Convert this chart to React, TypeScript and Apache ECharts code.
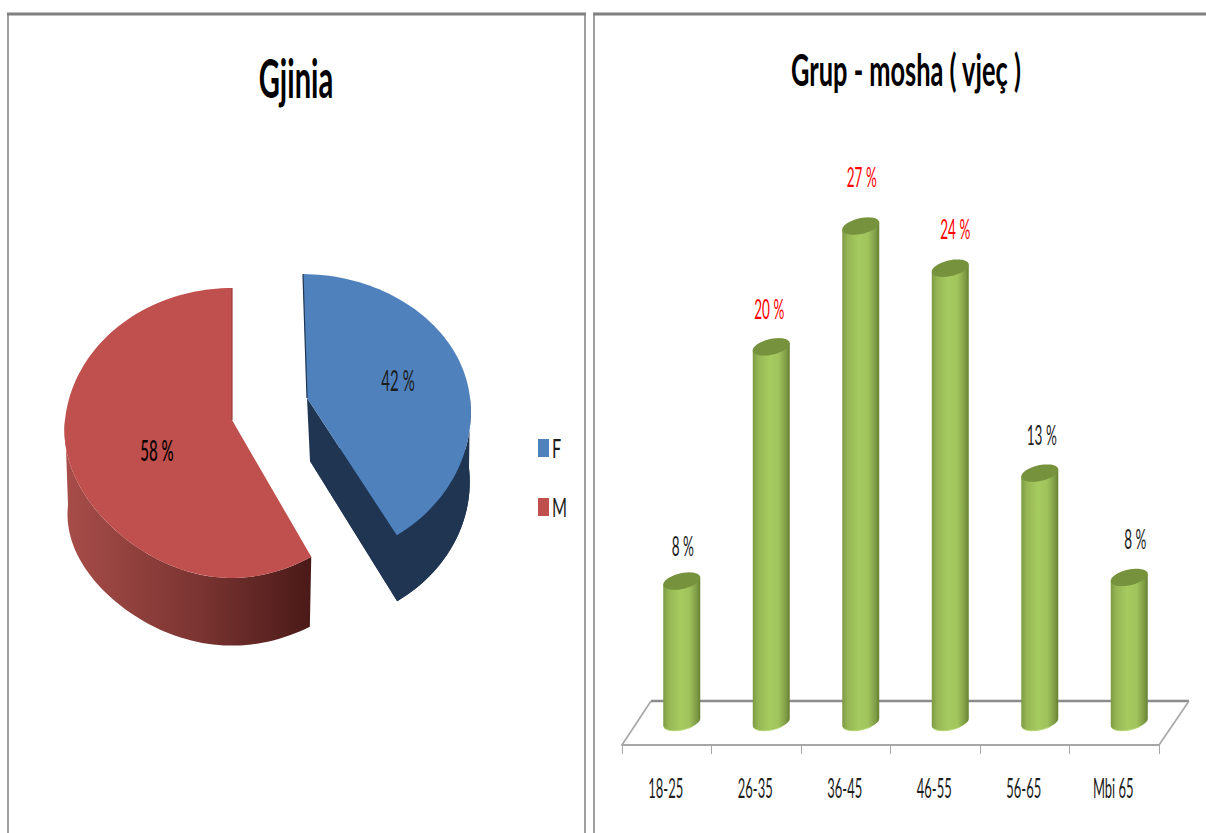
import React, { useEffect, useRef } from "react";
import * as echarts from "echarts";

const pieTitle = "Gjinia";
const barTitle = "Grup - mosha ( vjeç )";
const pieCategories = ["F", "M"];
const pieValues = [42, 58];
const ageCategories = ["18-25", "26-35", "36-45", "46-55", "56-65", "Mbi 65"];
const ageValues = [7.7, 20.5, 27.1, 24.8, 13.6, 7.9];
const ageLabels = ["8 %", "20 %", "27 %", "24 %", "13 %", "8 %"];

const labelNudgeX = [1, -2, 1, 5, 2, 6];
const labelNudgeY = [-35, -38, -49, -39, -38, -38];

const FONT = "Lato, Carlito, 'Open Sans', sans-serif";
const TEXT_DARK = "#1c1c1c";
const G = echarts.graphic as any;

type Disk = { x: number; y: number; R: number; Ry: number; sq: number; fy: number; tx: number };
const P = 0.0897;

function pt(d: Disk, deg: number): number[] {
  const t = (deg * Math.PI) / 180;
  const X = Math.sin(t);
  const Y = Math.cos(t);
  const w = 1 + P * Y;
  const squeeze = Y < 0 ? 1 - d.sq * Y * Y : 1;
  const stretch = Y < 0 ? 1 + d.fy * Y * Y : 1;
  const shift = Y > 0 ? d.tx * Y * Y : 0;
  return [d.x + shift + (d.R * X * squeeze) / w, d.y - (d.Ry * Y * stretch) / w];
}
function arc(d: Disk, a: number, b: number): number[][] {
  const out: number[][] = [];
  const n = Math.max(2, Math.ceil(Math.abs(b - a) / 2));
  for (let i = 0; i <= n; i++) out.push(pt(d, a + ((b - a) * i) / n));
  return out;
}

const blueTop: Disk = { x: 307, y: 398, R: 163, Ry: 135, sq: -0.07, fy: 0.09, tx: -4 };
const blueBot: Disk = { x: 309, y: 468, R: 160, Ry: 131, sq: -0.07, fy: 0.09, tx: 0 };
const blueWallFoot = [310, 461];
const redTop: Disk = { x: 232, y: 420, R: 167, Ry: 143.8, sq: 0.12, fy: 0, tx: 0 };
const redBot: Disk = { x: 232, y: 505, R: 164, Ry: 128, sq: 0.12, fy: 0, tx: 0 };

const pieTotal = pieValues.reduce((a, b) => a + b, 0);

function renderBlue(_p: any, api: any) {
  const end = (api.value(0) / pieTotal) * 360;
  const dark = "#1f3552";
  const base = { style: { fill: dark }, silent: true };
  return {
    type: "group",
    children: [
      { type: "polygon", shape: { points: [blueWallFoot, ...arc(blueBot, 60, end)] }, ...base },
      { type: "polygon", shape: { points: [...arc(blueTop, 90, end), ...arc(blueBot, 90, end).reverse()] }, ...base },
      {
        type: "polygon",
        shape: { points: [[blueTop.x, blueTop.y], pt(blueTop, end), pt(blueBot, end), blueWallFoot] },
        ...base,
      },
      { type: "polygon", shape: { points: [[blueTop.x, blueTop.y], ...arc(blueTop, 0, end)] }, style: { fill: "#4f81bd" } },
      {
        type: "polyline",
        shape: { points: [pt(blueTop, 0), [blueTop.x, blueTop.y]] },
        style: { stroke: dark, lineWidth: 1.2, fill: "none" },
      },
      {
        type: "text",
        x: 398,
        y: 380,
        scaleX: 0.52,
        style: { text: Math.round(api.value(0)) + " %", fontFamily: FONT, fontSize: 29, fill: TEXT_DARK, align: "center", verticalAlign: "middle" },
      },
    ],
  };
}

function renderRed(_p: any, api: any) {
  const sweep = (api.value(0) / pieTotal) * 360;
  const start = 360 - sweep;
  return {
    type: "group",
    children: [
      {
        type: "polygon",
        shape: { points: [...arc(redTop, start, 270), ...arc(redBot, start, 270).reverse()] },
        style: {
          fill: new G.LinearGradient(1, 0, 0, 0, [
            { offset: 0, color: "#4a1a18" },
            { offset: 0.45, color: "#7a3431" },
            { offset: 1, color: "#a84d49" },
          ]),
        },
      },
      { type: "polygon", shape: { points: [[redTop.x, redTop.y], ...arc(redTop, start, 360)] }, style: { fill: "#c0504d" } },
      {
        type: "polyline",
        shape: { points: [pt(redTop, 360), [redTop.x, redTop.y]] },
        style: { stroke: "#943c39", lineWidth: 1.2, fill: "none" },
      },
      {
        type: "text",
        x: 157,
        y: 450,
        scaleX: 0.52,
        style: { text: Math.round(api.value(0)) + " %", fontFamily: FONT, fontSize: 29, fontWeight: 500, fill: "#000", align: "center", verticalAlign: "middle" },
      },
    ],
  };
}

const DEPTH_X = 15;
const DEPTH_Y = -23;
const A = 18.5;
const B = 8;
const K = 3.5;

function ell(cx: number, cy: number, t: number): number[] {
  const r = (t * Math.PI) / 180;
  return [cx + A * Math.cos(r), cy + B * Math.sin(r) - K * Math.cos(r)];
}

function renderCylinder(params: any, api: any) {
  const i = params.dataIndex;
  const v = api.value(1);
  const top = api.coord([api.value(0), v]);
  const bottom = api.coord([api.value(0), 0]);
  const cx = top[0] + DEPTH_X;
  const ty = top[1] + DEPTH_Y;
  const by = bottom[1] + DEPTH_Y;
  const lower: number[][] = [];
  for (let t = 180; t >= 0; t -= 6) lower.push(ell(cx, by, t));
  const whole: number[][] = [];
  for (let t = 0; t < 360; t += 6) whole.push(ell(cx, ty, t));
  return {
    type: "group",
    children: [
      {
        type: "polygon",
        shape: { points: [ell(cx, ty, 180), ...lower, ell(cx, ty, 0)] },
        style: {
          fill: new G.LinearGradient(0, 0, 1, 0, [
            { offset: 0, color: "#7d9a44" },
            { offset: 0.14, color: "#95b553" },
            { offset: 0.45, color: "#a6cb60" },
            { offset: 0.7, color: "#a0c35c" },
            { offset: 0.9, color: "#7f9c46" },
            { offset: 1, color: "#64802f" },
          ]),
        },
      },
      { type: "polyline", shape: { points: lower.slice(3, 22) }, style: { stroke: "#b4d873", lineWidth: 1, fill: "none" } },
      { type: "polygon", shape: { points: whole }, style: { fill: "#76923c" } },
      {
        type: "text",
        x: cx + labelNudgeX[i],
        y: ty + labelNudgeY[i],
        scaleX: 0.52,
        style: {
          text: ageLabels[i],
          fontFamily: FONT,
          fontSize: 26,
          fill: v >= 20 ? "#ff0000" : TEXT_DARK,
          align: "center",
          verticalAlign: "middle",
        },
      },
    ],
  };
}

function renderFloor(params: any) {
  const c = params.coordSys;
  const l = c.x;
  const r = c.x + c.width;
  const b = c.y + c.height;
  return {
    type: "group",
    children: [
      { type: "polyline", shape: { points: [[l, b], [l + 29, b - 44]] }, style: { stroke: "#a6a6a6", lineWidth: 1.6, fill: "none" } },
      { type: "polyline", shape: { points: [[l + 29, b - 44], [r + 30, b - 44]] }, style: { stroke: "#8c8c8c", lineWidth: 2.4, fill: "none" } },
      { type: "polyline", shape: { points: [[r + 30, b - 44], [r, b]] }, style: { stroke: "#a6a6a6", lineWidth: 1.6, fill: "none" } },
    ],
  };
}

function renderAxisLabel(params: any, api: any) {
  const c = params.coordSys;
  const p = api.coord([api.value(0), 0]);
  return {
    type: "text",
    x: p[0] - 1,
    y: c.y + c.height + 43,
    scaleX: 0.48,
    style: {
      text: ageCategories[params.dataIndex],
      fontFamily: FONT,
      fontSize: 27,
      fill: TEXT_DARK,
      align: "center",
      verticalAlign: "middle",
    },
  };
}

function titleEl(text: string, x: number, y: number, size: number, sx: number) {
  return {
    type: "text",
    x,
    y,
    scaleX: sx,
    style: { text, fontFamily: FONT, fontSize: size, fontWeight: 700, fill: "#000", align: "center", verticalAlign: "middle" },
  };
}

function legendEls() {
  const colors = ["#4f81bd", "#c0504d"];
  const ys = [448, 507];
  const out: any[] = [];
  pieCategories.forEach((name, i) => {
    out.push({ type: "rect", shape: { x: 538, y: ys[i] - 9, width: 11, height: 18 }, style: { fill: colors[i] } });
    out.push({
      type: "text",
      x: 552,
      y: ys[i],
      scaleX: 0.6,
      style: { text: name, fontFamily: FONT, fontSize: 27, fill: TEXT_DARK, align: "left", verticalAlign: "middle" },
    });
  });
  return out;
}

function panelEls() {
  const top = "#808080";
  const side = "#a0a0a0";
  const line = (pts: number[][], stroke: string, lineWidth: number) => ({
    type: "polyline",
    shape: { points: pts },
    style: { stroke, lineWidth, fill: "none" },
  });
  return [
    line([[8, 14], [8, 833]], side, 2),
    line([[585, 14], [585, 833]], side, 2),
    line([[7, 14], [586, 14]], top, 3),
    line([[594, 14], [594, 833]], side, 2),
    line([[593, 14], [1206, 14]], top, 3),
  ];
}

export default function App() {
  const ref = useRef<HTMLDivElement>(null);
  useEffect(() => {
    if (!ref.current) return;
    const chart = echarts.init(ref.current, undefined, { renderer: "svg" });
    chart.setOption({
      animation: false,
      backgroundColor: "#ffffff",
      grid: { left: 622, right: 47, top: 196, bottom: 88, containLabel: false },
      xAxis: {
        type: "category",
        data: ageCategories,
        axisLine: { show: true, lineStyle: { color: "#a6a6a6", width: 2 } },
        axisTick: { show: true, length: 9, lineStyle: { color: "#a6a6a6", width: 1 } },
        axisLabel: { show: false },
        splitLine: { show: false },
      },
      yAxis: { type: "value", min: 0, max: 30, show: false, splitLine: { show: false } },
      graphic: {
        elements: [
          ...panelEls(),
          titleEl(pieTitle, 296, 78, 53, 0.55),
          titleEl(barTitle, 906, 70, 43, 0.59),
          ...legendEls(),
        ],
      },
      series: [
        { type: "custom", name: "floor", coordinateSystem: "cartesian2d", silent: true, data: [[0, 0]], encode: { x: 0, y: 1 }, renderItem: renderFloor },
        {
          type: "custom",
          name: "Grup - mosha",
          coordinateSystem: "cartesian2d",
          silent: true,
          data: ageValues.map((v, i) => [i, v]),
          encode: { x: 0, y: 1 },
          renderItem: renderCylinder,
        },
        {
          type: "custom",
          name: "axisLabels",
          coordinateSystem: "cartesian2d",
          silent: true,
          data: ageCategories.map((_, i) => [i, 0]),
          encode: { x: 0, y: 1 },
          renderItem: renderAxisLabel,
        },
        { type: "custom", name: "F", coordinateSystem: "none", silent: true, data: [[pieValues[0]]], renderItem: renderBlue },
        { type: "custom", name: "M", coordinateSystem: "none", silent: true, data: [[pieValues[1]]], renderItem: renderRed },
      ],
    });
    return () => chart.dispose();
  }, []);
  return <div ref={ref} style={{ position: "absolute", left: 0, top: 0, width: 1206, height: 833 }} />;
}
